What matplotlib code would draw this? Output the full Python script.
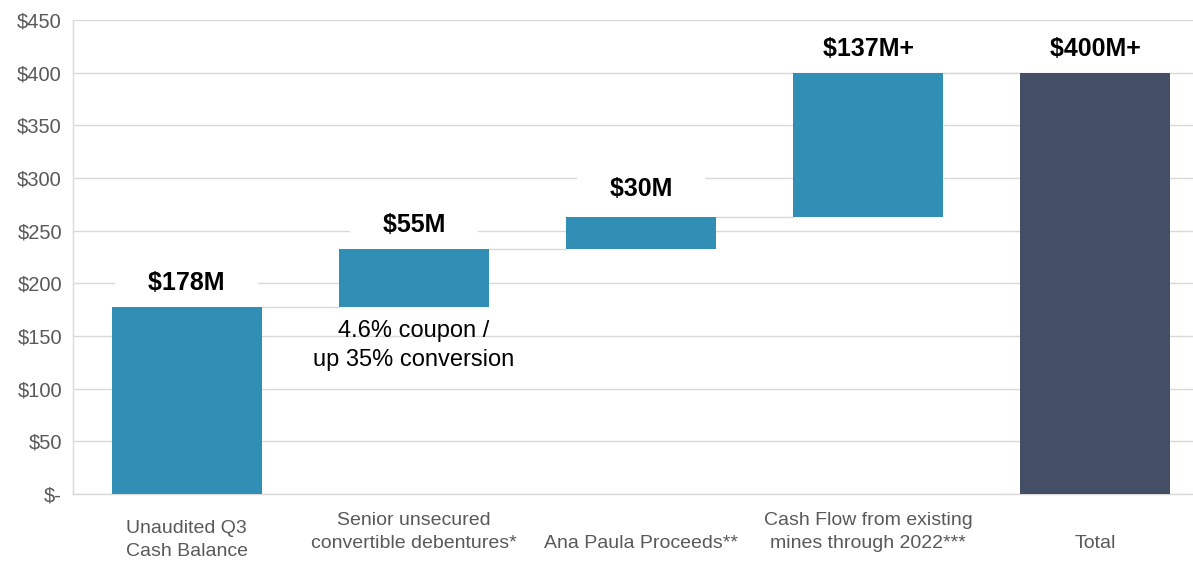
import matplotlib
matplotlib.use("Agg")
import matplotlib.pyplot as plt
import numpy as np

plt.rcParams['font.family'] = ['Liberation Sans', 'DejaVu Sans']

categories = ["Unaudited Q3\nCash Balance",
              "Senior unsecured\nconvertible debentures*",
              "\nAna Paula Proceeds**",
              "Cash Flow from existing\nmines through 2022***",
              "\nTotal"]
increments = [178, 55, 30, 137]
total = 400
value_labels = ["$178M", "$55M", "$30M", "$137M+", "$400M+"]
y_ticks = [0, 50, 100, 150, 200, 250, 300, 350, 400, 450]
y_tick_labels = ["$-", "$50", "$100", "$150", "$200", "$250", "$300", "$350", "$400", "$450"]
note = "4.6% coupon /\nup 35% conversion"

blue = "#318FB6"
dark = "#444F66"
grid_c = "#D9D9D9"
text_grey = "#595959"

fig = plt.figure(figsize=(11.93, 5.62), dpi=100)
ax = fig.add_axes([73/1193, 1-494/562, 1-73/1193, (494-20)/562])

x = np.arange(len(categories))
bottoms = np.concatenate([[0], np.cumsum(increments)[:-1]])
heights = list(increments) + [total]
bots = list(bottoms) + [0]
colors = [blue]*len(increments) + [dark]
w = 0.66
ax.bar(x, heights, bottom=bots, width=w, color=colors, zorder=3)

# connectors
levels = list(np.cumsum(increments))
for i, lv in enumerate(levels):
    ax.plot([x[i] + w/2, x[i+1] - w/2], [lv, lv], color=grid_c, lw=1.0, zorder=2)

tops = [b + h for b, h in zip(bots, heights)]
for i, (t, lbl) in enumerate(zip(tops, value_labels)):
    extra = 3 if i == 2 else 0
    ax.annotate("    " + lbl + "    ", (x[i], t), xytext=(0, 17 + extra), textcoords="offset points",
                ha="center", va="center", fontsize=18, fontweight="bold", color="black",
                bbox=dict(boxstyle="square,pad=0.2", facecolor="white", edgecolor="none"),
                zorder=4)

ax.annotate(note, (x[1], bots[1]), xytext=(0, -10), textcoords="offset points",
            ha="center", va="top", fontsize=17, color="black", linespacing=1.38, zorder=4)

ax.set_ylim(0, 450)
ax.set_xlim(-0.5, 4.43)
ax.set_yticks(y_ticks)
ax.set_yticklabels(y_tick_labels, fontsize=14.5, color=text_grey)
ax.set_xticks(x)
ax.set_xticklabels(categories, fontsize=14, color=text_grey)
for lab in ax.get_xticklabels():
    lab.set_linespacing(1.42)
ax.tick_params(axis="both", length=0)
ax.tick_params(axis="y", pad=8)
ax.tick_params(axis="x", pad=13)
ax.xaxis.get_major_ticks()[0].set_pad(19)

ax.grid(axis="y", color=grid_c, lw=1.0, zorder=0)
ax.set_axisbelow(True)
for s in ["top", "right"]:
    ax.spines[s].set_visible(False)
for s in ["left", "bottom"]:
    ax.spines[s].set_color(grid_c)
    ax.spines[s].set_linewidth(1.0)

fig.savefig("out.png", dpi=100, facecolor="white")
